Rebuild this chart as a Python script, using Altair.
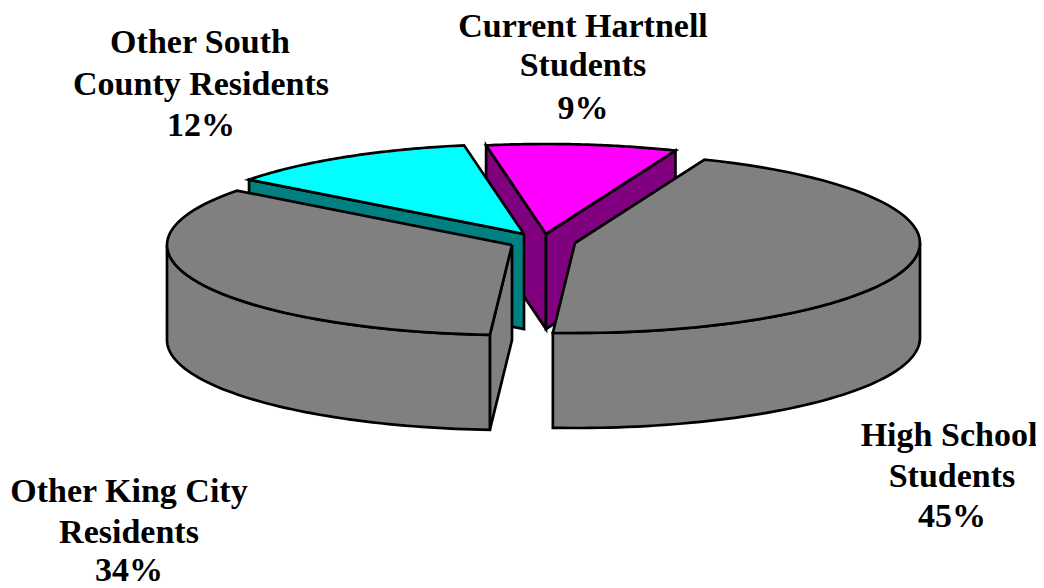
import math
import altair as alt
import pandas as pd

slice_names = ["Current Hartnell Students", "High School Students", "Other King City Residents", "Other South County Residents"]
shares = [8.9, 44.9, 34.3, 11.9]
top_colors = ["#FF00FF", "#808080", "#808080", "#00FFFF"]
wall_colors = ["#800080", "#808080", "#808080", "#008080"]
apex_x = [546, 575, 512, 524]
apex_y = [234, 243, 245, 234]
start_angle = -10.0
radius_x = 345
radius_y = 90
depth = 95

label_lines = ["Current Hartnell", "Students", "9%",
               "Other South", "County Residents", "12%",
               "High School", "Students", "45%",
               "Other King City", "Residents", "34%"]
label_x = [583, 583, 583, 200, 201, 201, 949, 952, 952, 129, 129, 129]
label_y = [27, 66, 109, 43, 85, 126, 436, 477, 517, 492, 533, 571]

W, H = 1028, 580


def rim(i, a, b, n=60, drop=0):
    pts = []
    for k in range(n + 1):
        t = math.radians(a + (b - a) * k / n)
        pts.append((apex_x[i] + radius_x * math.sin(t),
                    apex_y[i] - radius_y * math.cos(t) + drop))
    return pts


spans = []
cur = start_angle
for s in shares:
    spans.append((cur, cur + s * 3.6))
    cur += s * 3.6


def top(i):
    a, b = spans[i]
    c = (apex_x[i], apex_y[i])
    return [c] + rim(i, a, b) + [c]


def cut(i, angle):
    e = rim(i, angle, angle, n=1)[0]
    c = (apex_x[i], apex_y[i])
    return [c, e, (e[0], e[1] + depth), (c[0], c[1] + depth), c]


def outer(i, a, b):
    up = rim(i, a, b)
    down = rim(i, a, b, drop=depth)
    return up + down[::-1] + [up[0]]


polys = [
    (cut(0, spans[0][0]), wall_colors[0]),
    (cut(0, spans[0][1]), wall_colors[0]),
    (top(0), top_colors[0]),
    (cut(3, spans[3][0]), wall_colors[3]),
    (top(3), top_colors[3]),
    (outer(1, 90, spans[1][1]), wall_colors[1]),
    (top(1), top_colors[1]),
    (cut(2, spans[2][0]), wall_colors[2]),
    (outer(2, spans[2][0], 270), wall_colors[2]),
    (top(2), top_colors[2]),
]

x_scale = alt.Scale(domain=[8, 8 + W], range=[0, W], nice=False, zero=False)
y_scale = alt.Scale(domain=[8, 8 + H], range=[0, H], nice=False, zero=False)

layers = []
for pts, color in polys:
    df = pd.DataFrame({"x": [p[0] for p in pts], "y": [p[1] for p in pts], "o": range(len(pts))})
    layers.append(
        alt.Chart(df).mark_line(filled=True, fill=color, stroke="black", strokeWidth=2.7, strokeJoin="miter").encode(
            x=alt.X("x:Q", scale=x_scale, axis=None),
            y=alt.Y("y:Q", scale=y_scale, axis=None),
            order="o:Q",
        )
    )

labels = pd.DataFrame({"t": label_lines, "x": label_x, "y": label_y})
layers.append(
    alt.Chart(labels).mark_text(font="Liberation Serif", fontWeight="bold", fontSize=34, color="black",
                                align="center", baseline="middle").encode(
        x=alt.X("x:Q", scale=x_scale, axis=None),
        y=alt.Y("y:Q", scale=y_scale, axis=None),
        text="t:N",
    )
)

chart = alt.layer(*layers).properties(
    width=W, height=H, padding=0, autosize=alt.AutoSizeParams(type="none"),
    background="white"
).configure_view(stroke=None)
chart.save("out.html", embed_options={"renderer": "svg", "actions": False})
